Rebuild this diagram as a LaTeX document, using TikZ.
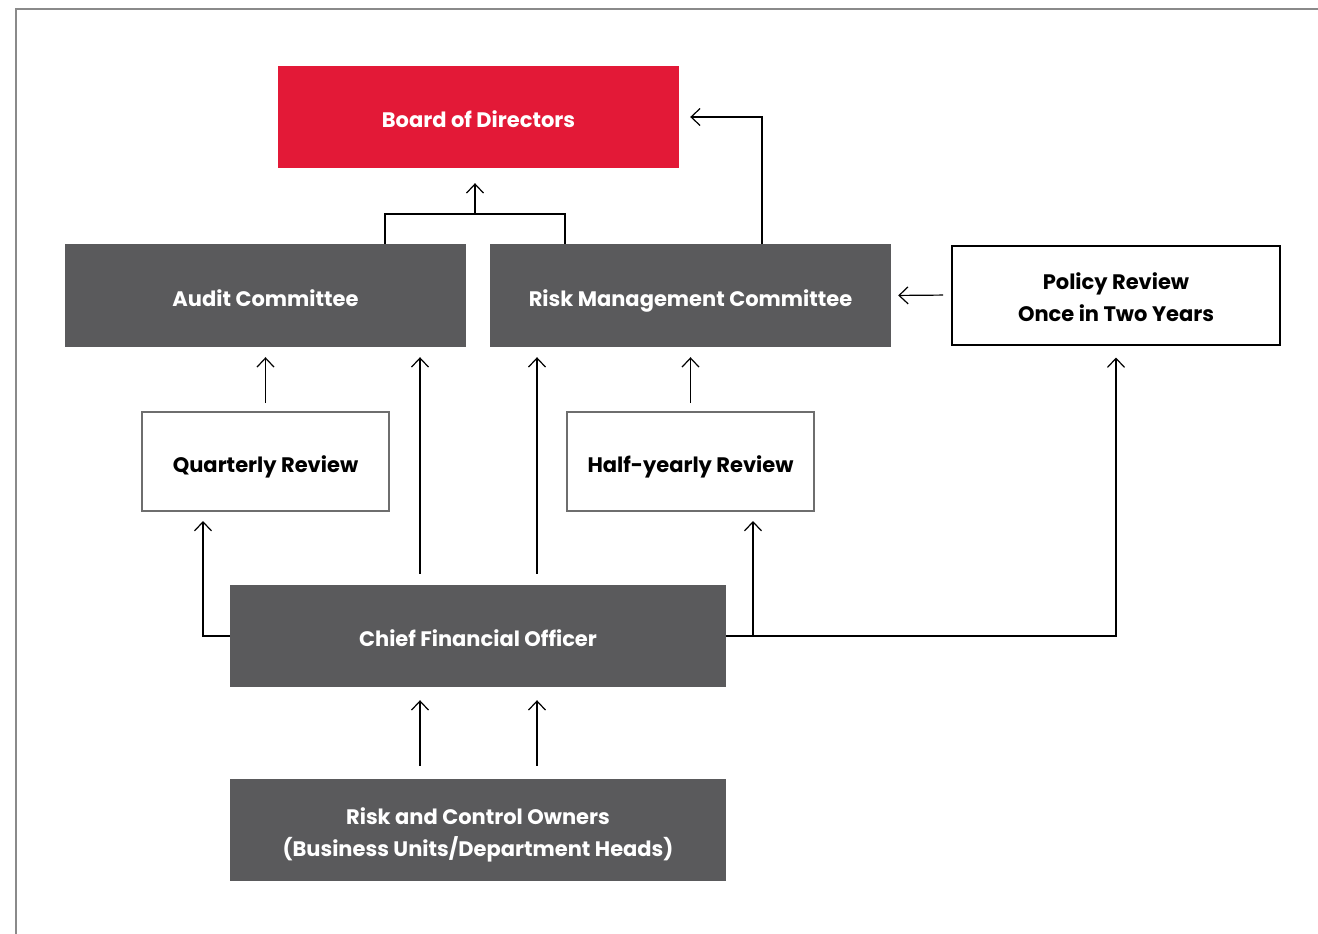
\documentclass[tikz,border=0pt]{standalone}
\usepackage{fontspec}
\setmainfont{Poppins}
\usetikzlibrary{arrows.meta}
\definecolor{bred}{HTML}{E31937}
\definecolor{bgray}{HTML}{5A5A5C}
\definecolor{lgray}{HTML}{6E6E6E}
\definecolor{frame}{HTML}{8A8A8A}
\tikzset{
  box/.style={rectangle, inner sep=0pt, align=center, text height=21pt, text depth=0pt, font=\fontsize{21}{32}\selectfont\bfseries},
  twoline/.style={text height=53pt},
  redbox/.style={box, fill=bred, text=white},
  graybox/.style={box, fill=bgray, text=white},
  whitebox/.style={box, draw=lgray, line width=2pt, fill=white, text=black},
  blackbox/.style={box, draw=black, line width=2pt, fill=white, text=black},
  conn/.style={line width=1.2pt, black},
  arr/.style={conn, -{Straight Barb[length=9pt,width=17pt,line width=1.2pt]}},
}
\begin{document}
\begin{tikzpicture}[x=1pt,y=-1pt]
\useasboundingbox (0,0) rectangle (1318,934);
\draw[frame, line width=1.4pt] (16,934) -- (16,9) -- (1318,9);
\node[redbox, minimum width=401pt, minimum height=102pt] (board) at (478.5,117) {Board of Directors};
\node[graybox, minimum width=401pt, minimum height=103pt] (audit) at (265.5,295.5) {Audit Committee};
\node[graybox, minimum width=401pt, minimum height=103pt] (risk) at (690.5,295.5) {Risk Management Committee};
\node[blackbox, twoline, minimum width=328pt, minimum height=99pt] (policy) at (1116,295) {Policy Review\\Once in Two Years};
\node[whitebox, minimum width=247pt, minimum height=99pt] (quarterly) at (265.5,461.5) {Quarterly Review};
\node[whitebox, minimum width=247pt, minimum height=99pt] (half) at (690.5,461.5) {Half-yearly Review};
\node[graybox, minimum width=496pt, minimum height=102pt] (cfo) at (478,636) {Chief Financial Officer};
\node[graybox, twoline, minimum width=496pt, minimum height=102pt] (owners) at (478,830) {Risk and Control Owners\\(Business Units/Department Heads)};
% junctions
\coordinate (ja) at (385,214);
\coordinate (jb) at (565,214);
\coordinate (jm) at (475,214);
\coordinate (jr) at (762,117);
\coordinate (jq) at (203,636);
\coordinate (jh) at (753,636);
\coordinate (jp) at (1116,636);
\coordinate (xa) at (420,0);
\coordinate (xb) at (537,0);
% connectors
\draw[conn] (audit.north -| ja) -- (ja) -- (jb) -- (risk.north -| jb);
\draw[arr, shorten >=15pt] (jm) -- (board.south -| jm);
\draw[arr, shorten >=11pt] (risk.north -| jr) -- (jr) -- (board.east |- jr);
\draw[arr, shorten <=8pt, shorten >=7pt] (policy.west) -- (risk.east);
\draw[arr, shorten <=8pt, shorten >=10pt] (quarterly.north) -- (audit.south -| quarterly.north);
\draw[arr, shorten <=8pt, shorten >=10pt] (half.north) -- (risk.south -| half.north);
\draw[arr, shorten <=11pt, shorten >=10pt] (cfo.north -| xa) -- (audit.south -| xa);
\draw[arr, shorten <=11pt, shorten >=10pt] (cfo.north -| xb) -- (risk.south -| xb);
\draw[arr, shorten >=9pt] (cfo.west) -- (jq) -- (quarterly.south -| jq);
\draw[arr, shorten >=12pt] (cfo.east) -- (jp) -- (policy.south);
\draw[arr, shorten >=9pt] (jh) -- (half.south -| jh);
\draw[arr, shorten <=13pt, shorten >=13pt] (owners.north -| xa) -- (cfo.south -| xa);
\draw[arr, shorten <=13pt, shorten >=13pt] (owners.north -| xb) -- (cfo.south -| xb);
\end{tikzpicture}
\end{document}
